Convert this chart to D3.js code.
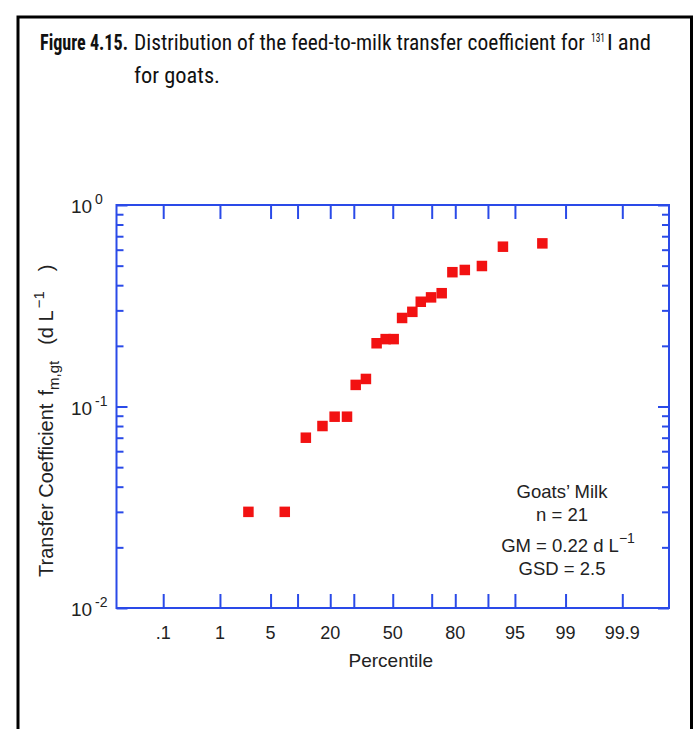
<!DOCTYPE html>
<html>
<head>
<meta charset="utf-8">
<script src="https://cdn.jsdelivr.net/npm/d3@7"></script>
<style>
  html, body { margin: 0; padding: 0; background: #fff; }
  svg { display: block; }
</style>
</head>
<body>
<script>
// ---- data ----
const percentiles = [2.6, 7.3, 12.1, 17.2, 21.7, 26.9, 30.9, 35.9, 41.4, 46.2, 50.5, 55.0, 60.4, 64.7, 69.7, 74.5, 78.9, 83.4, 88.5, 93.1, 97.8];
const transferValues = [0.030, 0.030, 0.070, 0.080, 0.089, 0.089, 0.128, 0.137, 0.206, 0.216, 0.216, 0.275, 0.295, 0.331, 0.348, 0.365, 0.464, 0.476, 0.498, 0.621, 0.645];
const xTickLabels = [0.1, 1, 5, 20, 50, 80, 95, 99, 99.9];
const xTickExtra = [10, 30, 70, 90];
const xTickText = [".1", "1", "5", "20", "50", "80", "95", "99", "99.9"];
const yMajor = [0.01, 0.1, 1];
const yMajorExp = ["-2", "-1", "0"];
const xDomainPct = [0.01, 99.99];
const yDomain = [0.01, 1];
const annotation = ["Goats\u2019 Milk", "n = 21", "GM = 0.22 d L", "GSD = 2.5"];

// inverse standard normal CDF (Acklam)
function probit(p) {
  const a = [-3.969683028665376e+01, 2.209460984245205e+02, -2.759285104469687e+02, 1.383577518672690e+02, -3.066479806614716e+01, 2.506628277459239e+00];
  const b = [-5.447609879822406e+01, 1.615858368580409e+02, -1.556989798598866e+02, 6.680131188771972e+01, -1.328068155288572e+01];
  const c = [-7.784894002430293e-03, -3.223964580411365e-01, -2.400758277161838e+00, -2.549732539343734e+00, 4.374664141464968e+00, 2.938163982698783e+00];
  const d = [7.784695709041462e-03, 3.224671290700398e-01, 2.445134137142996e+00, 3.754408661907416e+00];
  const pl = 0.02425, ph = 1 - pl;
  let q, r;
  if (p < pl) {
    q = Math.sqrt(-2 * Math.log(p));
    return (((((c[0]*q+c[1])*q+c[2])*q+c[3])*q+c[4])*q+c[5]) / ((((d[0]*q+d[1])*q+d[2])*q+d[3])*q+1);
  } else if (p <= ph) {
    q = p - 0.5; r = q*q;
    return (((((a[0]*r+a[1])*r+a[2])*r+a[3])*r+a[4])*r+a[5])*q / (((((b[0]*r+b[1])*r+b[2])*r+b[3])*r+b[4])*r+1);
  } else {
    q = Math.sqrt(-2 * Math.log(1 - p));
    return -(((((c[0]*q+c[1])*q+c[2])*q+c[3])*q+c[4])*q+c[5]) / ((((d[0]*q+d[1])*q+d[2])*q+d[3])*q+1);
  }
}

const W = 694, H = 729;
const plot = { left: 116.5, right: 669, top: 205, bottom: 608 };
const blue = "#2a4ae8";
const red = "#f21212";
const helv = "'Liberation Sans', Arial, Helvetica, sans-serif";
const narrow = "'Liberation Sans Narrow', 'Roboto Condensed', 'DejaVu Sans Condensed', 'Liberation Sans', sans-serif";

const svg = d3.select("body").append("svg").attr("width", W).attr("height", H);
svg.append("rect").attr("width", W).attr("height", H).attr("fill", "#fff");

// outer black frame
svg.append("path")
  .attr("d", `M18,${H+5} V17 H691.5 V${H+5}`)
  .attr("fill", "none").attr("stroke", "#000").attr("stroke-width", 3);

// title pieces: fitted horizontally to measured widths via scale transform
function fitText(str, x0, y0, width, size, bold) {
  const t = svg.append("text").attr("x", 0).attr("y", 0)
    .attr("font-family", narrow).attr("font-size", size).attr("fill", "#111")
    .attr("font-weight", bold ? "bold" : "normal").text(str);
  const L = t.node().getComputedTextLength() || width;
  t.attr("transform", `translate(${x0},${y0}) scale(${width / L},1)`);
  return t;
}
fitText("Figure 4.15.", 40, 50, 88, 22, true);
fitText("Distribution of the feed-to-milk transfer coefficient for", 134, 50, 451, 22, false);
fitText("131", 591, 42, 14, 12, false);
fitText("I and", 607, 50, 44, 22, false);
fitText("for goats.", 134, 83, 86, 22, false);

// scales
const x = d3.scaleLinear()
  .domain(xDomainPct.map(p => probit(p / 100)))
  .range([plot.left, plot.right]);
const xp = p => x(probit(p / 100));
const y = d3.scaleLog().domain(yDomain).range([plot.bottom, plot.top]);

// axes (ticks inward)
const allXTicks = xTickLabels.concat(xTickExtra);
const xTickZ = allXTicks.map(p => probit(p / 100));

const axisG = svg.append("g");
axisG.append("g").attr("transform", `translate(0,${plot.bottom})`)
  .call(d3.axisTop(x).tickValues(xTickZ).tickSize(14).tickFormat("").tickSizeOuter(0));
axisG.append("g").attr("transform", `translate(0,${plot.top})`)
  .call(d3.axisBottom(x).tickValues(xTickZ).tickSize(14).tickFormat("").tickSizeOuter(0));

const yMinor = [];
for (let e = -2; e < 0; e++) for (let m = 2; m <= 9; m++) yMinor.push(m * Math.pow(10, e));
[[plot.left, d3.axisRight], [plot.right, d3.axisLeft]].forEach(([xx, fn]) => {
  axisG.append("g").attr("transform", `translate(${xx},0)`)
    .call(fn(y).tickValues(yMajor).tickSize(11).tickFormat("").tickSizeOuter(0));
  axisG.append("g").attr("transform", `translate(${xx},0)`)
    .call(fn(y).tickValues(yMinor).tickSize(7).tickFormat("").tickSizeOuter(0));
});
axisG.selectAll(".domain").remove();
axisG.selectAll("line").attr("stroke", blue).attr("stroke-width", 2);

// frame of plot
svg.append("rect").attr("x", plot.left).attr("y", plot.top)
  .attr("width", plot.right - plot.left).attr("height", plot.bottom - plot.top)
  .attr("fill", "none").attr("stroke", blue).attr("stroke-width", 2);

// x tick labels
svg.append("g").selectAll("text").data(xTickLabels).join("text")
  .attr("x", d => xp(d)).attr("y", 639)
  .attr("text-anchor", "middle").attr("font-family", helv).attr("font-size", 18).attr("fill", "#222")
  .text((d, i) => xTickText[i]);
svg.append("text").attr("x", (plot.left + plot.right) / 2 - 2).attr("y", 667)
  .attr("text-anchor", "middle").attr("font-family", helv).attr("font-size", 19).attr("fill", "#222")
  .text("Percentile");

// y tick labels
const yl = svg.append("g").attr("font-family", helv).attr("fill", "#222");
yMajor.forEach((v, i) => {
  yl.append("text").attr("x", 71).attr("y", y(v) + 8).attr("font-size", 19).text("10");
  yl.append("text").attr("x", 95).attr("y", y(v) - 1).attr("font-size", 14).text(yMajorExp[i]);
});

// y axis title
const yt = svg.append("text").attr("transform", "translate(53,577) rotate(-90)")
  .attr("text-anchor", "start").attr("font-family", helv).attr("font-size", 20).attr("fill", "#222");
yt.append("tspan").text("Transfer Coefficient");
yt.append("tspan").attr("dx", 8).text("f");
yt.append("tspan").attr("font-size", 15).attr("dy", 6).text("m,gt");
yt.append("tspan").attr("dx", 16).attr("dy", -6).text("(d L");
yt.append("tspan").attr("font-size", 15).attr("dx", 2).attr("dy", -9).text("\u22121");
yt.append("tspan").attr("dx", 20).attr("dy", 9).text(")");

// data squares
const sq = 10.5;
svg.append("g").selectAll("rect").data(percentiles.map((p, i) => [p, transferValues[i]])).join("rect")
  .attr("x", d => xp(d[0]) - sq / 2).attr("y", d => y(d[1]) - sq / 2)
  .attr("width", sq).attr("height", sq).attr("fill", red);

// annotation
const ann = svg.append("g").attr("font-family", helv).attr("font-size", 18.5).attr("fill", "#222").attr("text-anchor", "middle");
ann.append("text").attr("x", 562).attr("y", 498).text(annotation[0]);
ann.append("text").attr("x", 562).attr("y", 521).text(annotation[1]);
const gm = ann.append("text").attr("x", 568).attr("y", 552);
gm.append("tspan").text(annotation[2]);
gm.append("tspan").attr("font-size", 14).attr("dy", -9).text("\u22121");
ann.append("text").attr("x", 562).attr("y", 575).text(annotation[3]);
</script>
</body>
</html>
